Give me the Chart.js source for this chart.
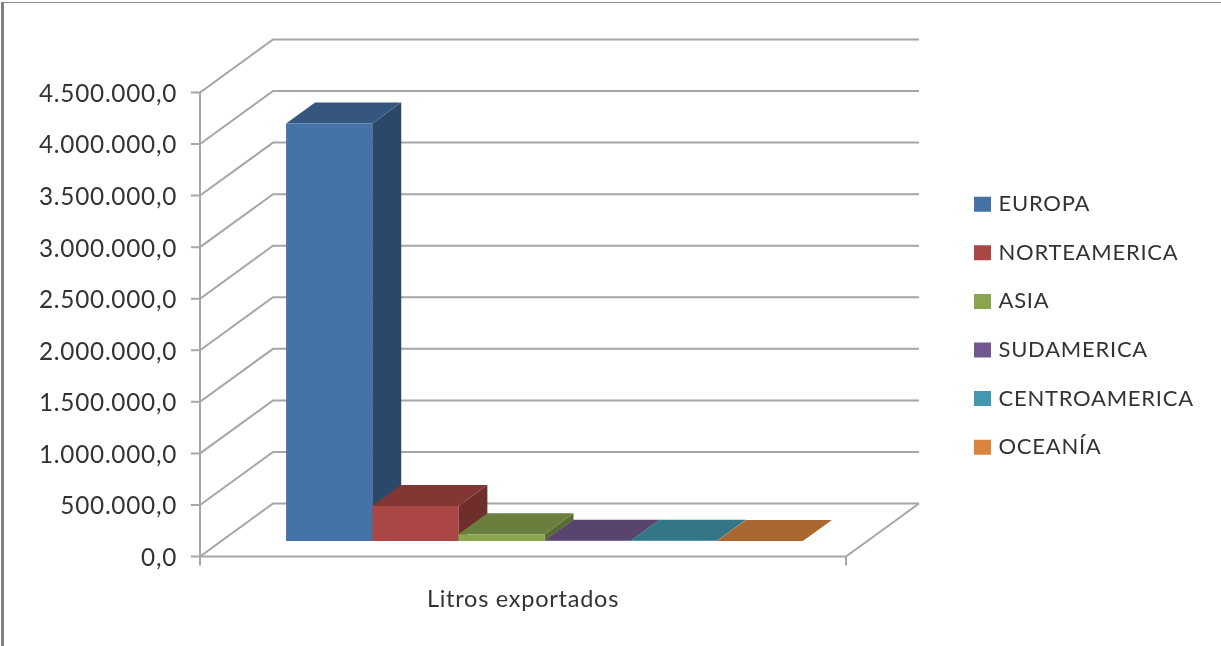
<!DOCTYPE html>
<html>
<head>
<meta charset="utf-8">
<style>
html,body{margin:0;padding:0;background:#fff;overflow:hidden}
#frame{position:absolute;left:1px;top:2px;right:0;bottom:0;border-left:3px solid #808080;border-top:1px solid #8c8c8c}
canvas{position:absolute;left:0;top:0;filter:blur(0.6px)}
</style>
<script src="https://cdn.jsdelivr.net/npm/chart.js@4"></script>
</head>
<body>
<div id="frame"></div>
<canvas id="c" width="1221" height="646"></canvas>
<script>
const categories = ['Litros exportados'];
const seriesNames = ['EUROPA','NORTEAMERICA','ASIA','SUDAMERICA','CENTROAMERICA','OCEANÍA'];
const europa = [4050000];
const norteamerica = [340000];
const asia = [65000];
const sudamerica = [3000];
const centroamerica = [2000];
const oceania = [1000];
const seriesValues = [europa,norteamerica,asia,sudamerica,centroamerica,oceania];
const tickLabels = ['0,0','500.000,0','1.000.000,0','1.500.000,0','2.000.000,0','2.500.000,0','3.000.000,0','3.500.000,0','4.000.000,0','4.500.000,0'];
const frontColors = ['#4572A7','#AA4643','#89A54E','#71588F','#4198AF','#DB843D'];
const topColors = ['#35577F','#843634','#6A7F3D','#57446F','#327688','#AA6730'];
const sideColors = ['#2C4869','#6F2D2B','#5A6B33','#49395D','#2A6372','#8F5628'];

const FONT = 'Lato';
const WALL = {dx:73, dy:-53};
const BARPLANE = {dx:21.5, dy:-15.5};
const DEPTH = {dx:29, dy:-21};
const GRID = '#a6a6a6';

const plot3d = {
  id:'plot3d',
  beforeDraw(chart){ chart.ctx.letterSpacing = '0.75px'; },
  afterLayout(chart){
    const l = chart.legend;
    const w = l.width, h = l.height;
    l.left = 977.5 - l.options.labels.padding; l.right = l.left + w;
    l.top = 166.6; l.bottom = l.top + h + 60;
  },
  beforeDatasetsDraw(chart){
    const {ctx, chartArea:a, scales:{y}} = chart;
    ctx.save();
    ctx.strokeStyle = GRID; ctx.lineWidth = 2;
    const line = pts => {ctx.beginPath(); pts.forEach((p,i)=> i?ctx.lineTo(p[0],p[1]):ctx.moveTo(p[0],p[1])); ctx.stroke();};
    y.ticks.forEach(t=>{
      const py = y.getPixelForValue(t.value);
      line([[a.left-9,py],[a.left,py],[a.left+WALL.dx,py+WALL.dy],[a.right+WALL.dx,py+WALL.dy]]);
    });
    const by = y.getPixelForValue(0);
    line([[a.left,y.getPixelForValue(y.max)],[a.left,by+9]]);
    line([[a.left,by],[a.right,by],[a.right+WALL.dx,by+WALL.dy]]);
    line([[a.right,by],[a.right,by+9]]);
    ctx.translate(BARPLANE.dx,BARPLANE.dy);
    chart.data.datasets.forEach((d,i)=>{
      const b = chart.getDatasetMeta(i).data[0];
      const L=b.x-b.width/2,R=b.x+b.width/2,T=b.y,B=b.base;
      const poly=(pts,c)=>{ctx.fillStyle=c;ctx.beginPath();pts.forEach((p,k)=>k?ctx.lineTo(p[0],p[1]):ctx.moveTo(p[0],p[1]));ctx.closePath();ctx.fill();};
      poly([[R,T],[R+DEPTH.dx,T+DEPTH.dy],[R+DEPTH.dx,B+DEPTH.dy],[R,B]],sideColors[i]);
      poly([[L,T],[R,T],[R+DEPTH.dx,T+DEPTH.dy],[L+DEPTH.dx,T+DEPTH.dy]],topColors[i]);
    });
    ctx.restore();
    ctx.save();
    ctx.translate(BARPLANE.dx,BARPLANE.dy);
  },
  afterDatasetsDraw(chart){ chart.ctx.restore(); }
};

new Chart(document.getElementById('c'),{
  type:'bar',
  data:{
    labels:categories,
    datasets:seriesNames.map((n,i)=>({label:n,data:seriesValues[i],backgroundColor:frontColors[i],borderWidth:0,clip:false,categoryPercentage:0.8,barPercentage:1}))
  },
  options:{
    responsive:false,animation:false,
    layout:{padding:{left:0,right:375,top:92.5,bottom:0}},
    plugins:{
      tooltip:{enabled:false},
      legend:{
        position:'chartArea',align:'start',
        labels:{
          font:{family:FONT,size:22},color:'#333333',
          boxWidth:10,boxHeight:8,padding:26.6,
          generateLabels(chart){
            return Chart.defaults.plugins.legend.labels.generateLabels(chart).map((it,i)=>Object.assign(it,{strokeStyle:frontColors[i],fillStyle:frontColors[i],lineWidth:7,lineJoin:'miter',lineDash:[]}));
          }
        }
      }
    },
    scales:{
      x:{
        grid:{display:false},border:{display:false},
        ticks:{display:false},
        title:{display:true,text:categories[0],font:{family:FONT,size:23.5},color:'#333333',padding:{top:0,bottom:32}},
        afterFit(s){s.height=89.5;}
      },
      y:{
        min:0,max:4500000,
        grid:{display:false},border:{display:false},
        ticks:{stepSize:500000,padding:15,labelOffset:1.5,font:{family:FONT,size:24.3},color:'#333333',
          callback(v){return tickLabels[Math.round(v/500000)];}},
        afterFit(s){s.width=200;}
      }
    }
  },
  plugins:[plot3d]
});
</script>
</body>
</html>
